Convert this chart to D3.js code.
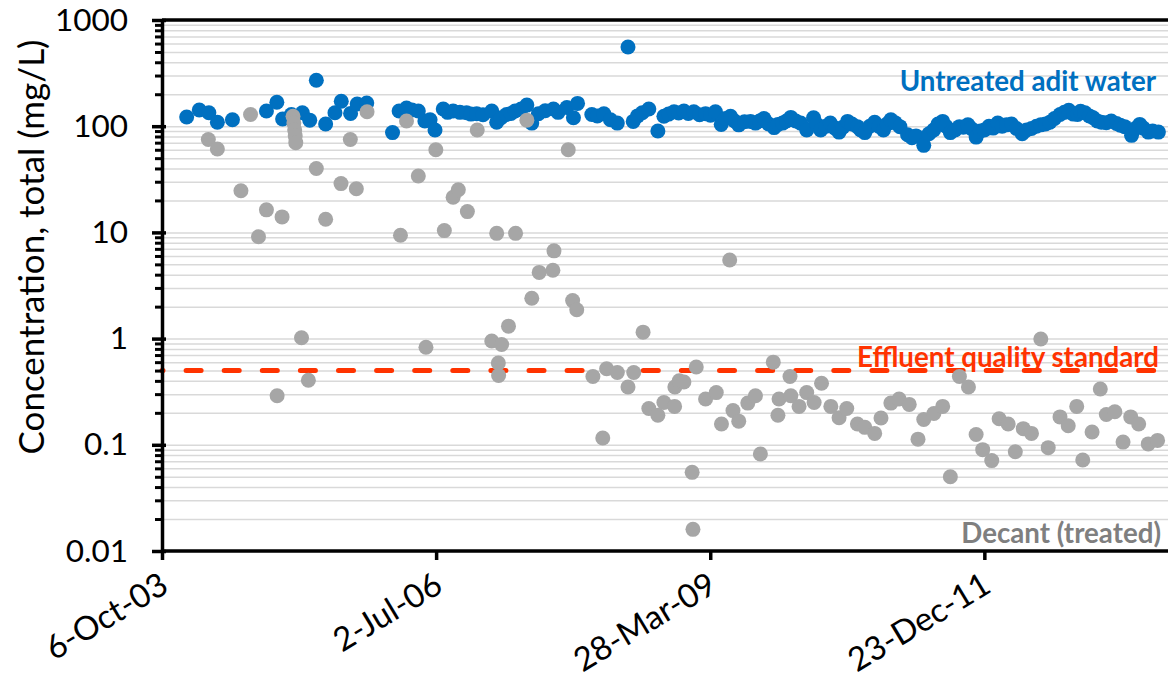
<!DOCTYPE html>
<html>
<head>
<meta charset="utf-8">
<script src="https://cdn.jsdelivr.net/npm/d3@7"></script>
<style>
  body { margin: 0; background: #fff; }
  svg { display: block; font-family: Lato, "Open Sans", sans-serif; }
</style>
</head>
<body>
<svg id="chart" width="1168" height="685"></svg>
<script>
// Untreated adit water (blue)
var aditDates = [
  "2004-01-04","2004-02-19","2004-03-25","2004-04-25","2004-06-19","2004-10-21","2004-11-28","2004-12-19",
  "2005-01-20","2005-03-01","2005-03-28","2005-04-21","2005-05-25","2005-06-28","2005-07-21","2005-08-24",
  "2005-09-17","2005-10-22","2006-01-24","2006-02-17","2006-03-16","2006-04-05","2006-04-28","2006-05-22",
  "2006-06-10","2006-06-28","2006-07-28","2006-08-13","2006-09-02","2006-09-27","2006-10-21","2006-11-06",
  "2006-11-27","2006-12-20","2007-01-21","2007-02-08","2007-02-24","2007-03-16","2007-04-01","2007-04-16",
  "2007-05-08","2007-05-29","2007-06-16","2007-07-10","2007-08-04","2007-09-03","2007-09-20","2007-10-22",
  "2007-11-15","2007-11-30","2008-01-21","2008-02-10","2008-03-05","2008-03-29","2008-04-23","2008-06-01",
  "2008-06-20","2008-07-06","2008-07-23","2008-08-16","2008-09-18","2008-10-10","2008-10-27","2008-11-16",
  "2008-12-03","2008-12-22","2009-01-07","2009-01-27","2009-02-17","2009-03-11","2009-03-29","2009-04-16",
  "2009-05-07","2009-05-23","2009-06-10","2009-06-25","2009-07-10","2009-07-31","2009-08-22","2009-09-09",
  "2009-09-24","2009-10-10","2009-10-27","2009-11-16","2009-11-30","2009-12-17","2009-12-31","2010-01-16",
  "2010-02-03","2010-02-21","2010-03-15","2010-04-09","2010-04-21","2010-05-05","2010-05-24","2010-06-09",
  "2010-06-26","2010-07-11","2010-07-25","2010-08-11","2010-08-27","2010-09-16","2010-09-28","2010-10-13",
  "2010-10-31","2010-11-18","2010-12-03","2010-12-20","2011-01-02","2011-01-16","2011-01-31","2011-02-18",
  "2011-03-18","2011-04-03","2011-04-18","2011-05-16","2011-06-04","2011-06-21","2011-07-07","2011-07-24",
  "2011-08-05","2011-08-21","2011-09-07","2011-09-23","2011-10-07","2011-10-24","2011-11-05","2011-11-23",
  "2011-12-08","2011-12-23","2012-01-09","2012-01-24","2012-02-10","2012-02-26","2012-03-13","2012-03-31",
  "2012-04-18","2012-05-09","2012-05-25","2012-06-12","2012-06-30","2012-07-16","2012-08-02","2012-08-18",
  "2012-09-04","2012-09-24","2012-10-10","2012-10-26","2012-11-12","2012-11-27","2012-12-08","2012-12-24",
  "2013-01-09","2013-01-23","2013-02-07","2013-02-22","2013-03-12","2013-03-30","2013-04-18","2013-05-02",
  "2013-05-18","2013-06-12","2013-06-26","2013-07-12","2013-07-25","2013-08-12","2013-08-28","2013-09-18"
];
var aditValues = [
  122,142,134,109,115,139,168,117,
  129,134,114,271,105,134,172,132,
  162,165,87,139,148,142,139,112,
  115,92,145,135,139,135,134,130,
  131,128,139,109,120,129,132,139,
  145,158,107,131,140,145,135,150,
  120,164,129,125,131,115,107,557,
  111,125,134,145,90,124,130,137,
  133,139,132,137,128,131,127,137,
  104,118,124,112,103,110,111,107,
  112,118,105,97,104,107,112,121,
  112,107,92,120,104,92,100,107,
  96,88,98,111,105,99,92,87,
  100,109,100,92,105,115,108,99,
  83,78,81,66,85,92,105,111,
  100,87,92,99,98,103,95,79,
  90,92,100,96,107,100,103,105,
  95,85,92,95,100,103,105,109,
  118,129,135,141,130,129,138,134,
  125,120,112,109,108,112,106,102,
  99,82,95,104,96,88,90,88
];

// Decant, treated (grey)
var decantDates = [
  "2004-03-23","2004-04-25","2004-07-20","2004-08-24","2004-09-22","2004-10-21","2004-11-29","2004-12-17",
  "2005-01-26","2005-01-29","2005-02-01","2005-02-03","2005-02-05","2005-02-26","2005-03-23","2005-04-21",
  "2005-05-25","2005-07-20","2005-08-23","2005-09-14","2005-10-23","2006-02-22","2006-03-16","2006-04-28",
  "2006-05-26","2006-07-01","2006-08-01","2006-09-02","2006-09-21","2006-10-24","2006-11-29","2007-01-21",
  "2007-02-08","2007-02-14","2007-02-15","2007-02-26","2007-03-23","2007-04-18","2007-05-29","2007-06-16",
  "2007-07-13","2007-09-01","2007-09-05","2007-10-27","2007-11-12","2007-11-27","2008-01-25","2008-03-01",
  "2008-03-15","2008-04-23","2008-06-01","2008-06-22","2008-07-26","2008-08-16","2008-09-18","2008-10-10",
  "2008-11-18","2008-11-19","2008-12-05","2008-12-22","2009-01-21","2009-01-24","2009-02-05","2009-03-11",
  "2009-04-19","2009-05-08","2009-06-07","2009-06-19","2009-07-10","2009-08-12","2009-09-09","2009-09-27",
  "2009-11-13","2009-11-30","2009-12-04","2010-01-13","2010-01-16","2010-02-15","2010-03-15","2010-04-11",
  "2010-05-08","2010-06-11","2010-07-11","2010-08-08","2010-09-16","2010-10-13","2010-11-18","2010-12-11",
  "2011-01-16","2011-02-15","2011-03-24","2011-04-25","2011-05-16","2011-06-22","2011-07-24","2011-08-21",
  "2011-09-23","2011-10-26","2011-11-23","2011-12-17","2012-01-19","2012-02-15","2012-03-19","2012-04-14",
  "2012-05-13","2012-06-12","2012-07-16","2012-08-12","2012-09-24","2012-10-24","2012-11-24","2012-12-16",
  "2013-01-19","2013-02-18","2013-03-12","2013-04-12","2013-05-12","2013-06-09","2013-07-08","2013-08-12",
  "2013-09-15"
];
var decantValues = [
  75,61,24.7,129,9.1,16.3,0.29,14,
  124,107,92,81,70,1.02,0.405,40,
  13.3,28.8,75,25.8,137,9.4,112,34,
  0.83,60,10.4,21.4,25.2,15.7,92,0.95,
  9.8,0.59,0.45,0.88,1.31,9.8,114,2.4,
  4.2,4.4,6.7,60,2.28,1.87,0.44,0.116,
  0.52,0.48,0.35,0.48,1.15,0.22,0.19,0.25,
  0.23,0.35,0.40,0.39,0.055,0.016,0.54,0.27,
  0.31,0.157,5.5,0.21,0.167,0.247,0.29,0.082,
  0.60,0.19,0.27,0.44,0.29,0.23,0.31,0.25,
  0.38,0.23,0.18,0.22,0.157,0.146,0.128,0.179,
  0.247,0.27,0.24,0.113,0.173,0.197,0.23,0.050,
  0.44,0.35,0.125,0.090,0.071,0.176,0.157,0.086,
  0.142,0.128,0.99,0.094,0.183,0.151,0.23,0.072,
  0.132,0.335,0.193,0.205,0.106,0.183,0.157,0.102,
  0.110
];

var standardValue = 0.5;

var xTickDates = ["2003-10-06", "2006-07-02", "2009-03-28", "2011-12-23"];
var xDomain = ["2003-10-06", "2013-10-23"];
var yTickValues = [0.01, 0.1, 1, 10, 100, 1000];
var yTickLabels = ["0.01", "0.1", "1", "10", "100", "1000"];

function drawChart() {
    var parse = d3.utcParse("%Y-%m-%d");
    var left = 162, right = 1168, top = 20, bottom = 551;

    var svg = d3.select("#chart");

    var x = d3.scaleUtc()
        .domain(xDomain.map(parse))
        .range([left, right]);
    var y = d3.scaleLog()
        .domain([0.01, 1000])
        .range([bottom, top]);

    // minor + major gridlines
    var gridValues = [];
    yTickValues.slice(0, -1).forEach(function(d) {
        for (var k = 1; k < 10; k++) gridValues.push(d * k);
    });
    gridValues.push(1000);

    svg.append("g")
        .attr("transform", "translate(" + left + ",0)")
        .call(d3.axisLeft(y).tickValues(gridValues).tickSize(-(right - left)).tickFormat(""))
        .call(function(g) {
            g.select(".domain").remove();
            g.selectAll("line").attr("stroke", "#d9d9d9").attr("stroke-width", 1.5);
        });

    // effluent standard line
    svg.append("line")
        .attr("x1", left).attr("x2", right)
        .attr("y1", y(standardValue)).attr("y2", y(standardValue))
        .attr("stroke", "#ff3300")
        .attr("stroke-width", 5)
        .attr("stroke-linecap", "round")
        .attr("stroke-dasharray", "15,23.1")
        .attr("stroke-dashoffset", 14);

    // series
    var aditData = aditDates.map(function(d, i) { return { date: parse(d), value: aditValues[i] }; });
    var decantData = decantDates.map(function(d, i) { return { date: parse(d), value: decantValues[i] }; });

    svg.append("g").selectAll("circle")
        .data(aditData)
        .enter()
        .append("circle")
        .attr("cx", function(d) { return x(d.date); })
        .attr("cy", function(d) { return y(d.value); })
        .attr("r", 7.5)
        .attr("fill", "#0070c0");

    svg.append("g").selectAll("circle")
        .data(decantData)
        .enter()
        .append("circle")
        .attr("cx", function(d) { return x(d.date); })
        .attr("cy", function(d) { return y(d.value); })
        .attr("r", 7.5)
        .attr("fill", "#a6a6a6");

    // top border of plot area
    svg.append("line")
        .attr("x1", left).attr("x2", right)
        .attr("y1", top).attr("y2", top)
        .attr("stroke", "#000").attr("stroke-width", 3.5);

    // minor y ticks
    svg.append("g")
        .attr("transform", "translate(" + left + ",0)")
        .call(d3.axisLeft(y).tickValues(gridValues.filter(function(d) { return yTickValues.indexOf(d) < 0; }))
            .tickSize(7).tickFormat(""))
        .call(function(g) {
            g.select(".domain").remove();
            g.selectAll("line").attr("stroke", "#000").attr("stroke-width", 3);
        });

    // y axis with major ticks crossing the line
    var yAxis = svg.append("g")
        .attr("transform", "translate(" + left + ",0)")
        .call(d3.axisLeft(y).tickValues(yTickValues).tickSize(10).tickSizeOuter(0)
            .tickFormat(function(d, i) { return yTickLabels[i]; }))
        .attr("font-family", null)
        .attr("font-size", null);
    yAxis.select(".domain").attr("stroke-width", 3.5);
    yAxis.selectAll(".tick line").attr("x2", -10).attr("x1", 4).attr("stroke-width", 3.5);
    yAxis.selectAll(".tick text")
        .attr("x", -34)
        .attr("font-size", 31.5)
        .attr("fill", "#000");

    // x axis
    var xAxis = svg.append("g")
        .attr("transform", "translate(0," + bottom + ")")
        .call(d3.axisBottom(x).tickValues(xTickDates.map(parse)).tickSize(9).tickSizeOuter(0)
            .tickFormat(d3.utcFormat("%-d-%b-%y")))
        .attr("font-family", null)
        .attr("font-size", null);
    xAxis.select(".domain").attr("stroke-width", 3.5).attr("d", "M" + left + ",0H" + right);
    xAxis.selectAll(".tick line").attr("stroke-width", 3.5);
    xAxis.selectAll(".tick text")
        .attr("y", 0).attr("dy", 0)
        .attr("text-anchor", "end")
        .attr("transform", "translate(8,40) rotate(-31)")
        .attr("font-size", 33)
        .attr("fill", "#000");

    // y axis title
    svg.append("text")
        .attr("transform", "translate(44,247) rotate(-90)")
        .attr("text-anchor", "middle")
        .attr("font-size", 35)
        .text("Concentration, total (mg/L)");

    // series labels
    svg.append("text")
        .attr("x", 1156).attr("y", 91)
        .attr("text-anchor", "end")
        .attr("font-size", 27.7).attr("font-weight", "bold")
        .attr("fill", "#0070c0")
        .text("Untreated adit water");

    svg.append("text")
        .attr("x", 1159).attr("y", 367)
        .attr("text-anchor", "end")
        .attr("font-size", 27.7).attr("font-weight", "bold")
        .attr("fill", "#ff3300")
        .text("Effluent quality standard");

    svg.append("text")
        .attr("x", 1161).attr("y", 543)
        .attr("text-anchor", "end")
        .attr("font-size", 27.7).attr("font-weight", "bold")
        .attr("fill", "#7f7f7f")
        .text("Decant (treated)");
}

window.onload = drawChart;
</script>
</body>
</html>
